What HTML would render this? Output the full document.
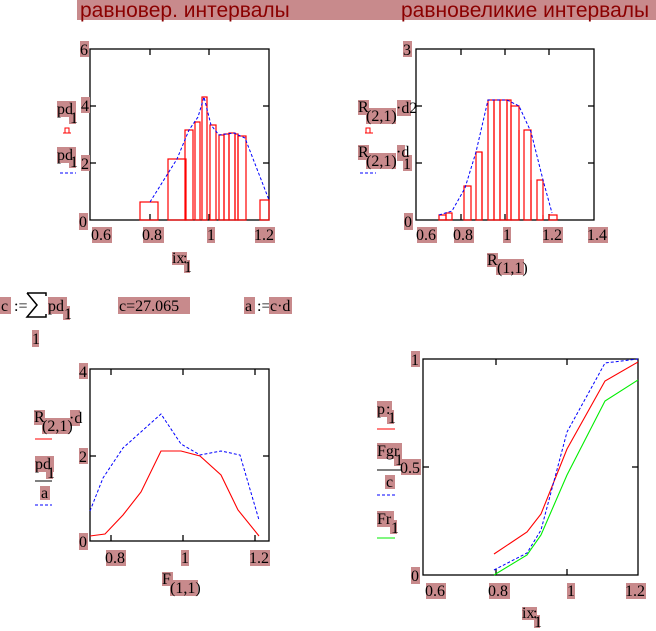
<!DOCTYPE html>
<html><head><meta charset="utf-8"><style>
html,body{margin:0;padding:0;background:#fff;width:656px;height:631px;overflow:hidden}
svg{display:block}
text{font-family:"Liberation Serif",serif;font-size:16px;fill:#000}
.t{font-family:"Liberation Sans","DejaVu Sans",sans-serif;font-size:21px;fill:#8b0000}
.p{fill:#c88a8c}
.b{fill:none;stroke:#000;stroke-width:1.3}
.bar{fill:none;stroke:#f00;stroke-width:1.2}
.bl{fill:none;stroke:#00f;stroke-width:1;stroke-dasharray:3,2}
.rd{fill:none;stroke:#f00;stroke-width:1.1}
.gr{fill:none;stroke:#0e0;stroke-width:1.1}
</style></head><body>
<svg width="656" height="631" viewBox="0 0 656 631">
<rect x="77" y="0" width="579" height="20" class="p"/>
<text x="80" y="17" class="t">равновер. интервалы</text>
<text x="401" y="17" class="t">равновеликие интервалы</text>

<!-- Plot 1 -->
<rect x="90" y="49" width="179" height="171" class="b"/>
<g stroke="#000" stroke-width="1.3">
<line x1="150" y1="49" x2="150" y2="55"/><line x1="209" y1="49" x2="209" y2="55"/>
<line x1="150" y1="220" x2="150" y2="214"/><line x1="209" y1="220" x2="209" y2="214"/>
<line x1="90" y1="106" x2="96" y2="106"/><line x1="90" y1="163" x2="96" y2="163"/>
<line x1="269" y1="106" x2="263" y2="106"/><line x1="269" y1="163" x2="263" y2="163"/>
</g>
<g class="bar">
<rect x="140" y="202" width="18" height="18"/>
<rect x="168" y="159" width="18" height="61"/>
<rect x="185" y="130" width="8" height="90"/>
<rect x="195" y="122" width="5" height="98"/>
<rect x="202" y="97" width="5" height="123"/>
<rect x="210" y="125" width="6" height="95"/>
<rect x="219" y="135" width="5" height="85"/>
<rect x="224" y="134" width="5" height="86"/>
<rect x="229" y="133" width="6" height="87"/>
<rect x="235" y="134" width="3" height="86"/>
<rect x="238" y="136" width="8" height="84"/>
<rect x="260" y="200" width="9" height="20"/>
</g>
<polyline class="bl" points="150,202 177,159 189,130 198,117 204,97 211,125 219,135 234,133 245,138 269,200"/>
<rect x="80" y="41" width="9" height="16" class="p"/><text x="80" y="55">6</text>
<rect x="81" y="97" width="9" height="16" class="p"/><text x="81" y="111">4</text>
<rect x="81" y="155" width="9" height="16" class="p"/><text x="81" y="169">2</text>
<rect x="79" y="213" width="9" height="17" class="p"/><text x="79" y="227">0</text>
<rect x="92" y="227" width="20" height="16" class="p"/><text x="91" y="240">0.6</text>
<rect x="143" y="227" width="21" height="16" class="p"/><text x="142" y="240">0.8</text>
<rect x="207" y="227" width="8" height="16" class="p"/><text x="207" y="240">1</text>
<rect x="255" y="227" width="20" height="16" class="p"/><text x="254" y="240">1.2</text>
<rect x="172" y="252" width="15" height="13" class="p"/><rect x="184" y="260" width="6" height="13" class="p"/>
<text x="172" y="263">ix</text><text x="183" y="263" font-size="12">:</text><text x="184" y="272" font-size="13">1</text>
<rect x="57" y="101" width="19" height="16" class="p"/><rect x="69" y="110" width="7" height="14" class="p"/>
<text x="57" y="114">pd</text><text x="70" y="123" font-size="13">1</text>
<path d="M63,133 h8 M65,133 v-5 h4 v5" stroke="#f00" fill="none"/>
<rect x="57" y="147" width="19" height="16" class="p"/><rect x="69" y="154" width="7" height="14" class="p"/>
<text x="57" y="160">pd</text><text x="70" y="167" font-size="13">1</text>
<line x1="60" y1="173" x2="76" y2="173" class="bl"/>

<!-- Plot 2 -->
<rect x="416" y="49" width="178" height="171" class="b"/>
<g stroke="#000" stroke-width="1.3">
<line x1="461" y1="49" x2="461" y2="55"/><line x1="505" y1="49" x2="505" y2="55"/><line x1="549" y1="49" x2="549" y2="55"/>
<line x1="461" y1="220" x2="461" y2="214"/><line x1="505" y1="220" x2="505" y2="214"/><line x1="549" y1="220" x2="549" y2="214"/>
<line x1="416" y1="106" x2="422" y2="106"/><line x1="416" y1="163" x2="422" y2="163"/>
<line x1="594" y1="106" x2="588" y2="106"/><line x1="594" y1="163" x2="588" y2="163"/>
</g>
<g class="bar">
<rect x="439" y="215" width="7" height="5"/>
<rect x="446" y="213" width="6" height="7"/>
<rect x="464" y="186" width="7" height="34"/>
<rect x="476" y="152" width="6" height="68"/>
<rect x="488" y="100" width="6" height="120"/>
<rect x="494" y="100" width="6" height="120"/>
<rect x="500" y="100" width="7" height="120"/>
<rect x="507" y="100" width="4" height="120"/>
<rect x="511" y="106" width="8" height="114"/>
<rect x="524" y="130" width="7" height="90"/>
<rect x="537" y="180" width="6" height="40"/>
<rect x="549" y="215" width="8" height="5"/>
</g>
<g stroke="#f00" stroke-width="1.2"><line x1="482" y1="152" x2="482" y2="220"/><line x1="519" y1="130" x2="519" y2="220"/><line x1="531" y1="180" x2="531" y2="220"/><line x1="543" y1="215" x2="543" y2="220"/></g>
<polyline class="bl" points="439,215 452,211 465,188 476,152 488,100 500,100 507,100 519,106 531,132 543,180 552,213"/>
<rect x="403" y="41" width="9" height="16" class="p"/><text x="403" y="55">3</text>
<rect x="403" y="155" width="9" height="16" class="p"/><text x="403" y="169">1</text>
<rect x="404" y="213" width="9" height="17" class="p"/><text x="404" y="227">0</text>
<rect x="417" y="227" width="20" height="16" class="p"/><text x="416" y="240">0.6</text>
<rect x="454" y="227" width="20" height="16" class="p"/><text x="453" y="240">0.8</text>
<rect x="503" y="227" width="8" height="16" class="p"/><text x="503" y="240">1</text>
<rect x="543" y="227" width="20" height="16" class="p"/><text x="542" y="240">1.2</text>
<rect x="588" y="227" width="20" height="16" class="p"/><text x="587" y="240">1.4</text>
<rect x="487" y="253" width="11" height="14" class="p"/><rect x="496" y="259" width="28" height="16" class="p"/>
<text x="487" y="265">R</text><text x="497" y="273" font-size="14">(1,1)</text>
<rect x="358" y="100" width="11" height="15" class="p"/><rect x="366" y="108" width="30" height="16" class="p"/><rect x="397" y="100" width="14" height="16" class="p"/>
<text x="358" y="112">R</text><text x="366" y="121" font-size="14">(2,1)</text><text x="396" y="113">·d2</text>
<path d="M365,133 h8 M366,133 v-5 h4 v5" stroke="#f00" fill="none"/>
<rect x="358" y="145" width="11" height="15" class="p"/><rect x="366" y="153" width="30" height="16" class="p"/><rect x="397" y="145" width="8" height="16" class="p"/>
<text x="358" y="157">R</text><text x="366" y="166" font-size="14">(2,1)</text><text x="396" y="157">·d</text>
<line x1="360" y1="173" x2="376" y2="173" class="bl"/>

<!-- formulas -->
<rect x="0" y="297" width="11" height="17" class="p"/><text x="1" y="311" font-size="17">c</text><text x="14" y="311" font-size="17">:=</text>
<path d="M27,293 h19 v3 M27,293 l10,12 l-10,12 h19 v-3" stroke="#000" fill="none" stroke-width="1.5"/>
<rect x="48" y="297" width="19" height="17" class="p"/><rect x="63" y="306" width="7" height="14" class="p"/>
<text x="48" y="311" font-size="17">pd</text><text x="64" y="319" font-size="13">1</text>
<rect x="32" y="330" width="7" height="17" class="p"/><text x="32" y="344" font-size="17">1</text>
<rect x="118" y="297" width="72" height="17" class="p"/><text x="119" y="311" font-size="17">c=27.065</text>
<rect x="244" y="297" width="11" height="17" class="p"/><text x="245" y="311" font-size="17">a</text><text x="257" y="311" font-size="17">:=</text>
<rect x="269" y="297" width="23" height="17" class="p"/><text x="270" y="311" font-size="17">c·d</text>

<!-- Plot 3 -->
<rect x="90" y="369" width="179" height="172" class="b"/>
<g stroke="#000" stroke-width="1.3">
<line x1="111" y1="369" x2="111" y2="375"/><line x1="183" y1="369" x2="183" y2="375"/><line x1="255" y1="369" x2="255" y2="375"/>
<line x1="111" y1="541" x2="111" y2="535"/><line x1="183" y1="541" x2="183" y2="535"/><line x1="255" y1="541" x2="255" y2="535"/>
<line x1="90" y1="456" x2="96" y2="456"/><line x1="269" y1="456" x2="263" y2="456"/>
</g>
<polyline class="bl" points="90,511 103,478 123,448 161,414 181,444 200,455 221,451 240,455 259,520"/>
<polyline class="rd" points="90,536 105,534 123,515 141,492 161,451 181,451 200,456 221,475 238,510 259,536"/>
<rect x="79" y="363" width="9" height="16" class="p"/><text x="79" y="377">4</text>
<rect x="79" y="448" width="9" height="16" class="p"/><text x="79" y="462">2</text>
<rect x="79" y="533" width="9" height="17" class="p"/><text x="79" y="547">0</text>
<rect x="106" y="550" width="20" height="16" class="p"/><text x="105" y="563">0.8</text>
<rect x="181" y="550" width="8" height="16" class="p"/><text x="181" y="563">1</text>
<rect x="250" y="550" width="20" height="16" class="p"/><text x="249" y="563">1.2</text>
<rect x="162" y="572" width="11" height="14" class="p"/><rect x="170" y="580" width="28" height="16" class="p"/>
<text x="162" y="584">F</text><text x="170" y="593" font-size="14">(1,1)</text>
<rect x="34" y="410" width="11" height="15" class="p"/><rect x="42" y="418" width="28" height="16" class="p"/><rect x="70" y="410" width="10" height="16" class="p"/>
<text x="34" y="422">R</text><text x="42" y="431" font-size="14">(2,1)</text><text x="69" y="423">·d</text>
<line x1="35" y1="439" x2="52" y2="439" stroke="#f00"/>
<rect x="35" y="456" width="19" height="16" class="p"/><rect x="46" y="465" width="7" height="14" class="p"/>
<text x="35" y="469">pd</text><text x="47" y="478" font-size="13">1</text>
<line x1="35" y1="481" x2="52" y2="481" stroke="#000"/>
<rect x="40" y="486" width="10" height="14" class="p"/><text x="41" y="498">a</text>
<line x1="35" y1="505" x2="52" y2="505" class="bl"/>

<!-- Plot 4 -->
<rect x="423" y="359" width="215" height="216" class="b"/>
<g stroke="#000" stroke-width="1.3">
<line x1="496" y1="359" x2="496" y2="365"/><line x1="567" y1="359" x2="567" y2="365"/>
<line x1="496" y1="575" x2="496" y2="569"/><line x1="567" y1="575" x2="567" y2="569"/>
<line x1="423" y1="467" x2="429" y2="467"/><line x1="638" y1="467" x2="632" y2="467"/>
</g>
<polyline class="rd" points="494,554 527,532 541,514 567,449 605,381 638,362"/>
<polyline class="gr" points="494,575 527,555 541,535 567,475 605,401 638,380"/>
<polyline class="bl" points="494,570 527,553 541,530 567,432 605,363 638,359"/>
<rect x="411" y="351" width="9" height="16" class="p"/><text x="411" y="365">1</text>
<rect x="401" y="459" width="20" height="16" class="p"/><text x="400" y="473">0.5</text>
<rect x="411" y="567" width="9" height="17" class="p"/><text x="411" y="581">0</text>
<rect x="426" y="583" width="20" height="16" class="p"/><text x="425" y="596">0.6</text>
<rect x="489" y="583" width="21" height="16" class="p"/><text x="488" y="596">0.8</text>
<rect x="567" y="583" width="8" height="16" class="p"/><text x="567" y="596">1</text>
<rect x="626" y="583" width="20" height="16" class="p"/><text x="625" y="596">1.2</text>
<rect x="522" y="607" width="15" height="13" class="p"/><rect x="534" y="615" width="6" height="13" class="p"/>
<text x="522" y="618">ix</text><text x="533" y="618" font-size="12">:</text><text x="534" y="627" font-size="13">1</text>
<rect x="377" y="401" width="15" height="16" class="p"/><rect x="387" y="410" width="7" height="14" class="p"/>
<text x="377" y="414">p</text><text x="386" y="414" font-size="12">:</text><text x="388" y="423" font-size="13">1</text>
<line x1="377" y1="429" x2="395" y2="429" stroke="#f00"/>
<rect x="377" y="443" width="25" height="16" class="p"/><rect x="394" y="452" width="7" height="14" class="p"/>
<text x="377" y="456">Fgr</text><text x="395" y="465" font-size="13">1</text>
<line x1="377" y1="470" x2="401" y2="470" stroke="#000"/>
<rect x="385" y="475" width="10" height="14" class="p"/><text x="386" y="487">c</text>
<line x1="377" y1="495" x2="395" y2="495" class="bl"/>
<rect x="377" y="511" width="17" height="16" class="p"/><rect x="390" y="520" width="7" height="14" class="p"/>
<text x="377" y="524">Fr</text><text x="391" y="533" font-size="13">1</text>
<line x1="377" y1="538" x2="395" y2="538" stroke="#0e0"/>
</svg>
</body></html>
